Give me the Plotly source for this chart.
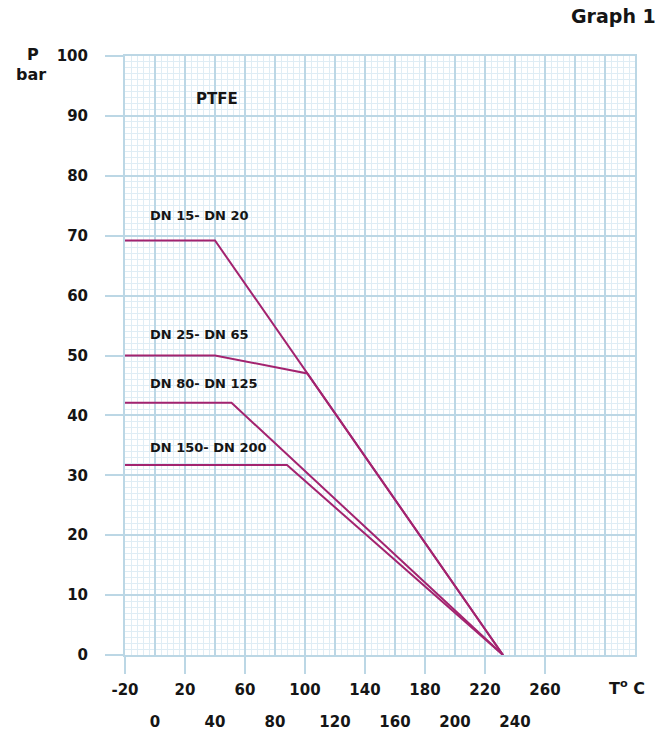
import plotly.graph_objects as go

# ---- data ----
series_names = ["DN 15- DN 20", "DN 25- DN 65", "DN 80- DN 125", "DN 150- DN 200"]
t_dn15 = [-20, 40, 232]
p_dn15 = [69.2, 69.2, 0]
t_dn25 = [-20, 40, 101.5, 232]
p_dn25 = [50, 50, 47.0, 0]
t_dn80 = [-20, 51, 232]
p_dn80 = [42.1, 42.1, 0]
t_dn150 = [-20, 88, 232]
p_dn150 = [31.7, 31.7, 0]
series_t = [t_dn15, t_dn25, t_dn80, t_dn150]
series_p = [p_dn15, p_dn25, p_dn80, p_dn150]
label_pos_t = [-4.7, -4.7, -4.7, -4.7]
label_pos_p = [73.3, 53.5, 45.3, 34.7]

x_ticks_row1 = [-20, 20, 60, 100, 140, 180, 220, 260]
x_ticks_row2 = [0, 40, 80, 120, 160, 200, 240]
y_ticks = [0, 10, 20, 30, 40, 50, 60, 70, 80, 90, 100]

X_RANGE = [-20, 320]
Y_RANGE = [0, 100]

MAJOR = "#bcd7e5"
MINOR = "#dfedf5"
LINE = "#a3236f"
FONT = "DejaVu Sans"
TXT = "#151515"

fig = go.Figure()
for name, t, p in zip(series_names, series_t, series_p):
    fig.add_trace(go.Scatter(x=t, y=p, mode="lines", name=name,
                             line=dict(color=LINE, width=2),
                             showlegend=False, hoverinfo="skip"))
# invisible traces so the overlay tick-label axes are built
fig.add_trace(go.Scatter(x=[-20], y=[0], xaxis="x2", yaxis="y", mode="markers",
                         marker=dict(opacity=0), showlegend=False, hoverinfo="skip"))
fig.add_trace(go.Scatter(x=[-20], y=[0], xaxis="x3", yaxis="y", mode="markers",
                         marker=dict(opacity=0), showlegend=False, hoverinfo="skip"))

for name, tx, py in zip(series_names, label_pos_t, label_pos_p):
    fig.add_annotation(x=tx, y=py, xref="x", yref="y", text=name, showarrow=False,
                       xanchor="left", yanchor="middle",
                       font=dict(family=FONT, size=13, color=TXT, weight="bold"))

fig.add_annotation(x=41.3, y=92.8, xref="x", yref="y", text="PTFE", showarrow=False,
                   xanchor="center", yanchor="middle",
                   font=dict(family=FONT, size=15, color=TXT, weight="bold"))
fig.add_annotation(x=1.045, y=1.0668, xref="paper", yref="paper", text="Graph 1",
                   showarrow=False, xanchor="right", yanchor="middle",
                   font=dict(family=FONT, size=19, color=TXT, weight="bold"))
fig.add_annotation(x=-0.1804, y=1.0033, xref="paper", yref="paper", text="P",
                   showarrow=False, xanchor="center", yanchor="middle",
                   font=dict(family=FONT, size=16, color=TXT, weight="bold"))
fig.add_annotation(x=-0.1843, y=0.9683, xref="paper", yref="paper", text="bar",
                   showarrow=False, xanchor="center", yanchor="middle",
                   font=dict(family=FONT, size=16, color=TXT, weight="bold"))
fig.add_annotation(x=0.985, y=-0.055, xref="paper", yref="paper", text="T<sup>o</sup> C",
                   showarrow=False, xanchor="center", yanchor="middle",
                   font=dict(family=FONT, size=16, color=TXT, weight="bold"))

tickfont = dict(family=FONT, size=15, color=TXT, weight="bold")

# page body has an 8px margin, so the figure's own margins are reduced by 8
fig.update_layout(
    width=663, height=733,
    margin=dict(l=117, r=36, t=48, b=86, autoexpand=False),
    paper_bgcolor="white", plot_bgcolor="white",
    xaxis=dict(range=X_RANGE, tickmode="linear", tick0=-20, dtick=20,
               showgrid=True, gridcolor=MAJOR, gridwidth=2,
               ticks="", showticklabels=False, zeroline=False, automargin=False,
               showline=True, linecolor=MAJOR, linewidth=2, mirror=True,
               minor=dict(tick0=-20, dtick=4, showgrid=True, gridcolor=MINOR, gridwidth=1, ticks="")),
    xaxis2=dict(range=X_RANGE, overlaying="x", anchor="y", side="bottom",
                tickmode="array", tickvals=x_ticks_row1, ticktext=[str(v) for v in x_ticks_row1],
                ticks="outside", ticklen=18, tickwidth=2, tickcolor=MAJOR,
                showgrid=False, zeroline=False, showline=False, automargin=False,
                tickfont=tickfont, ticklabelstandoff=3),
    xaxis3=dict(range=X_RANGE, overlaying="x", anchor="y", side="bottom",
                tickmode="array", tickvals=x_ticks_row2, ticktext=[str(v) for v in x_ticks_row2],
                ticks="", showgrid=False, zeroline=False, showline=False, automargin=False,
                tickfont=tickfont, ticklabelstandoff=56),
    yaxis=dict(range=Y_RANGE, tickmode="array", tickvals=y_ticks,
               ticktext=[str(v) for v in y_ticks],
               showgrid=True, gridcolor=MAJOR, gridwidth=2,
               ticks="outside", ticklen=18, tickwidth=2, tickcolor=MAJOR,
               zeroline=False, showline=True, linecolor=MAJOR, linewidth=2, mirror=True,
               tickfont=tickfont, ticklabelstandoff=14, automargin=False,
               minor=dict(tick0=0, dtick=1, showgrid=True, gridcolor=MINOR, gridwidth=1, ticks="")),
    showlegend=False,
)

fig.write_html("out.html")
